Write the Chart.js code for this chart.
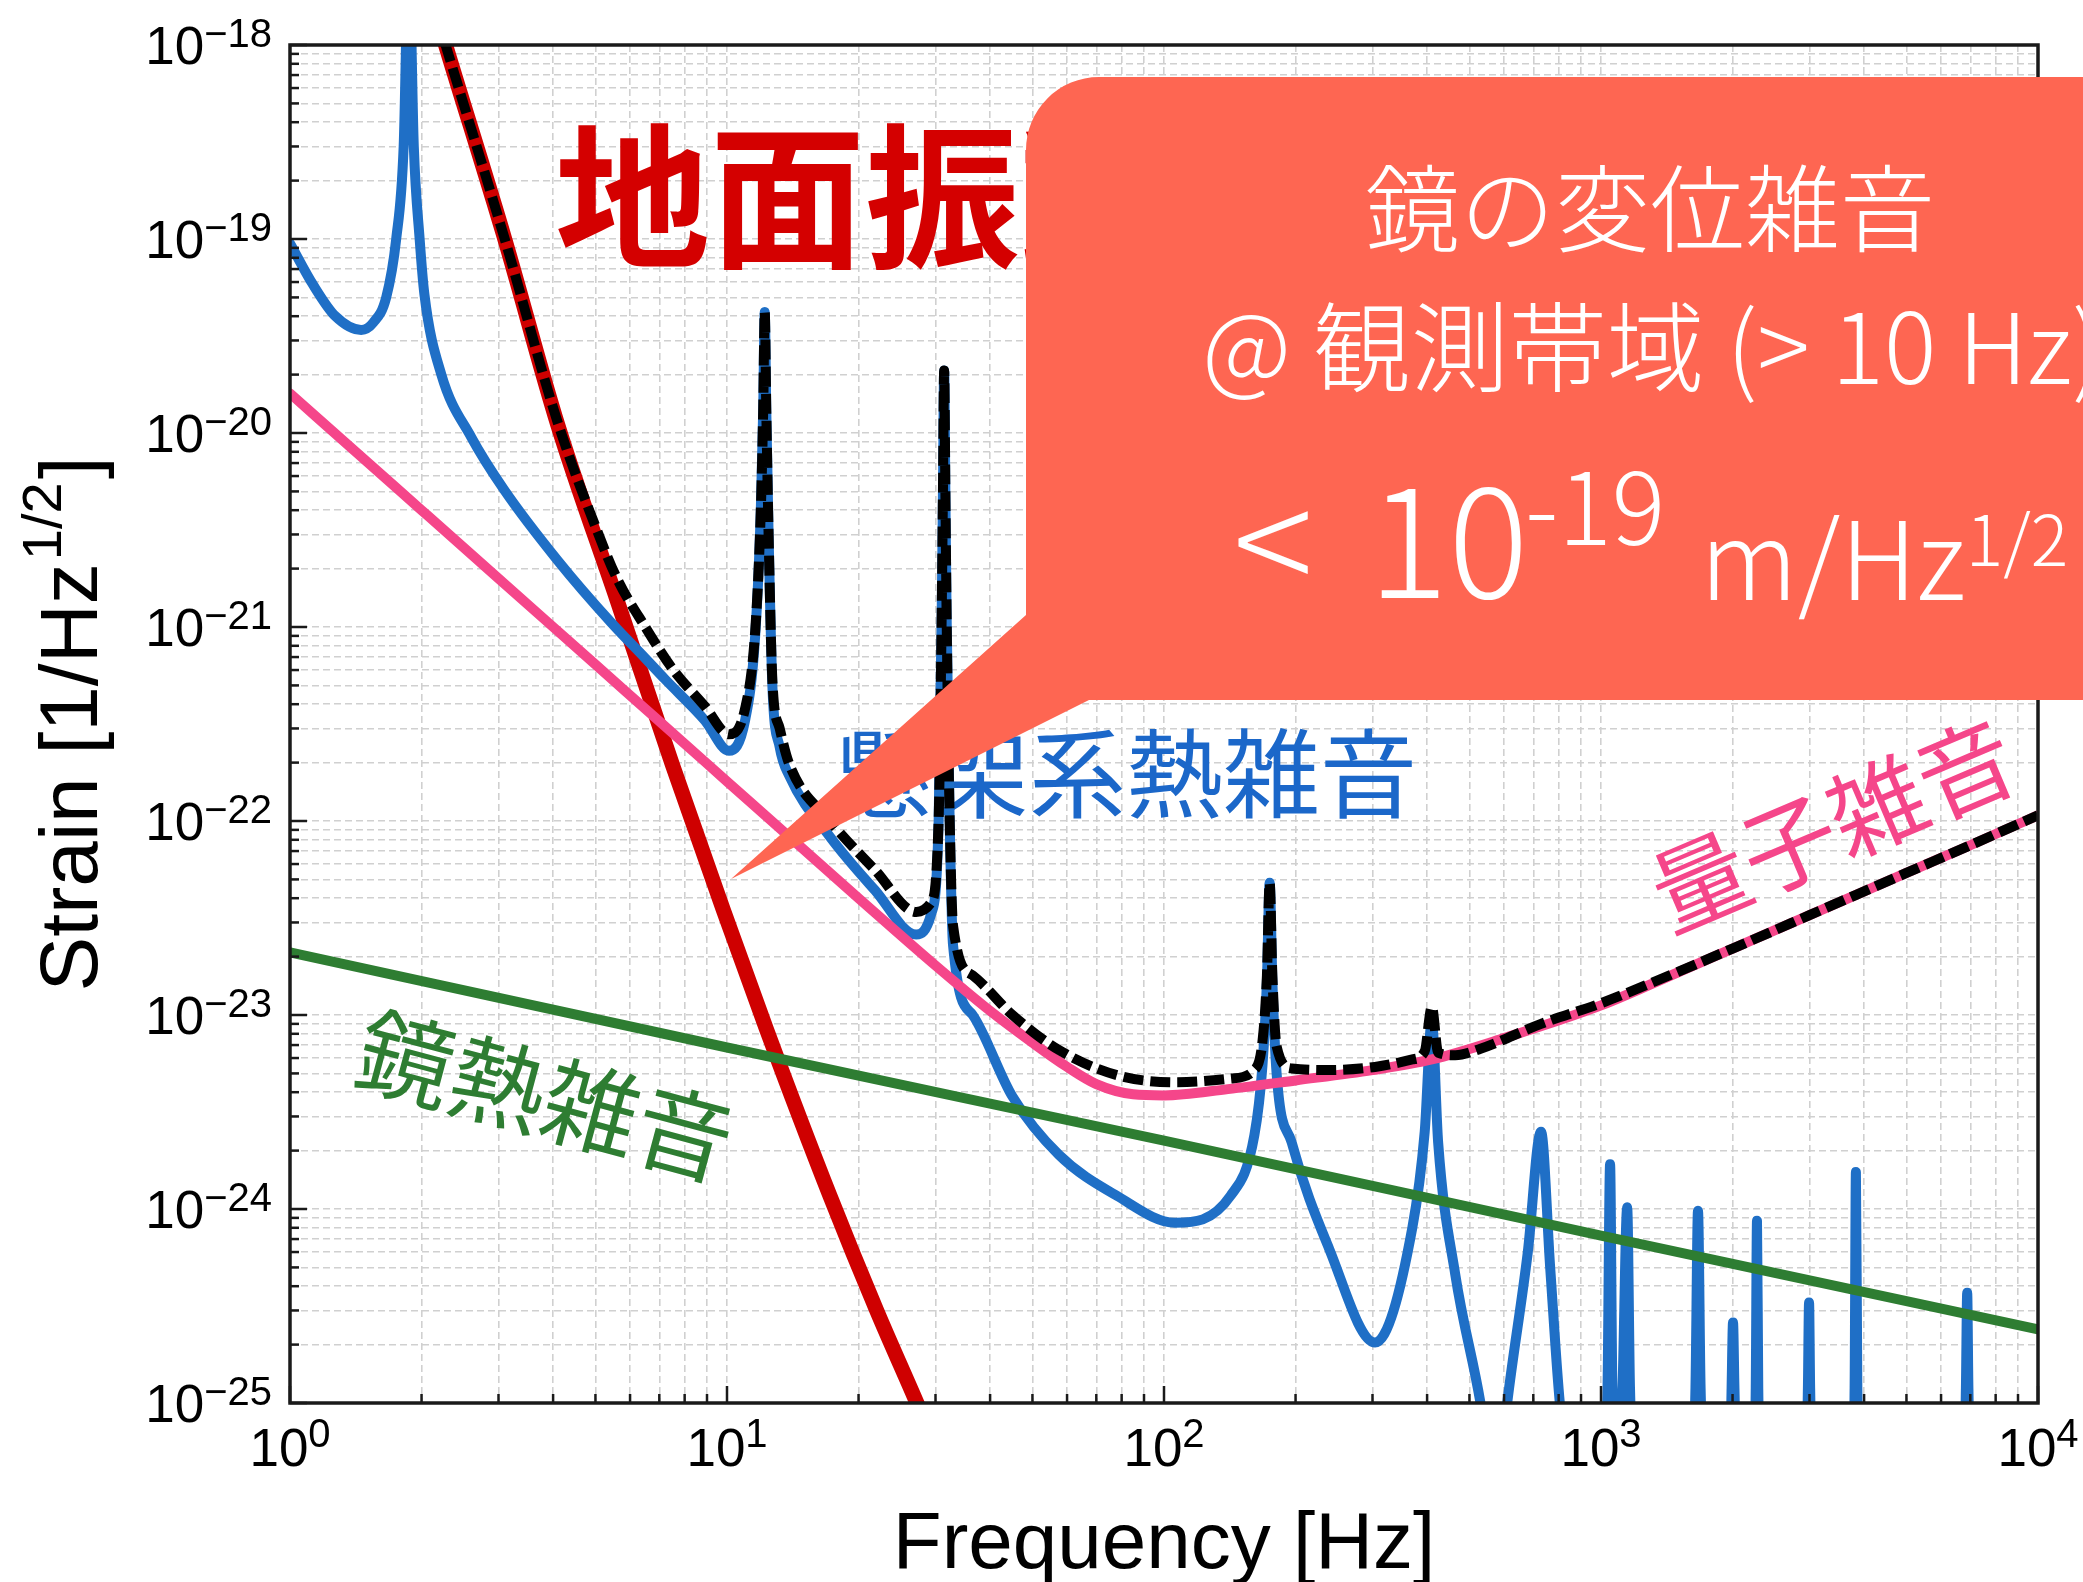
<!DOCTYPE html>
<html lang="ja">
<head>
<meta charset="utf-8">
<title>Noise budget</title>
<script src="https://cdn.jsdelivr.net/npm/chart.js@4.4.1/dist/chart.umd.min.js"></script>
<style>
  html, body { margin: 0; padding: 0; background: #fff; }
  #wrap { position: relative; width: 2083px; height: 1582px; }
</style>
</head>
<body>
<div id="wrap"><canvas id="noiseChart"></canvas></div>
<script>
// axis ranges and decade labels
const X_MIN = 1, X_MAX = 1e4;
const Y_MIN = 1e-25, Y_MAX = 1e-18;
const xTickExps = [0, 1, 2, 3, 4];
const yTickExps = [-18, -19, -20, -21, -22, -23, -24, -25];

// 地面振動 (seismic)
const seismicFreq   = [2.0, 2.27, 3.1, 4.1, 5.6, 7.5, 9.8, 12.3, 17.2, 22, 27.2, 31];
const seismicStrain = [2.6e-18, 1e-18, 1e-19, 1.1e-20, 1.38e-21, 1.95e-22, 3.5e-23, 8.5e-24, 1.17e-24, 3.0e-25, 1e-25, 5e-26];

// 懸架系熱雑音 (suspension thermal)
const suspFreq = [1, 1.13, 1.27, 1.455, 1.55, 1.66, 1.75, 1.82, 1.87, 1.92, 1.98, 2.03, 2.22, 2.6, 3.09, 4.1, 5.44, 6.5, 7.2, 8.9,
  10.1, 11.0, 11.6, 11.95, 12.1, 12.2, 12.3, 12.45, 12.7, 13.2, 13.9, 17.2, 21.8, 27.1, 29.3, 30.5, 31.0, 31.2, 31.4, 31.6, 31.8,
  32.3, 32.9, 36.5, 45, 57.5, 78, 106, 142, 161, 168, 172, 174.5, 177, 181, 196, 239, 304, 370, 395, 410, 424, 464, 530,
  575, 610, 680, 729, 765, 805, 840,
  1020, 1035, 1049, 1062, 1100, 1120, 1148, 1165, 1190,
  1620, 1645, 1667, 1690, 1720, 1975, 1990, 2005, 2020, 2040,
  2240, 2260, 2275, 2290, 2320, 2950, 2975, 2993, 3010, 3040,
  3770, 3805, 3831, 3860, 3900, 6780, 6840, 6886, 6930, 7000, 10000];
const suspStrain = [9.5e-20, 5.8e-20, 4.0e-20, 3.4e-20, 3.7e-20, 5e-20, 1e-19, 3e-19, 3e-18, 3e-19, 1e-19, 5.2e-20, 2.0e-20, 9.5e-21, 5.1e-21, 2.2e-21, 1.05e-21, 6.9e-22, 5.4e-22, 3.3e-22,
  2.3e-22, 3.3e-22, 9e-22, 4e-21, 1.3e-20, 4.2e-20, 1.3e-20, 3e-21, 5e-22, 2.4e-22, 1.7e-22, 8.3e-23, 4.4e-23, 2.6e-23, 3.3e-23, 1e-22, 1.2e-21, 5e-21, 2.1e-20, 5e-21, 1.2e-21,
  1.1e-22, 2.3e-23, 1e-23, 3.8e-24, 1.9e-24, 1.17e-24, 8.5e-25, 1.17e-24, 2.4e-24, 5.5e-24, 1.5e-23, 4.8e-23, 1.5e-23, 5e-24, 2.2e-24, 6.2e-25, 2.05e-25, 8e-25, 2.5e-24, 9.3e-24, 2.2e-24, 4.6e-25, 1e-25,
  3e-26, 1e-25, 6e-25, 2.5e-24, 5e-25, 1e-25, 5e-26,
  5e-26, 1.2e-25, 1.7e-24, 1.2e-25, 5e-26, 1.2e-25, 1.02e-24, 1.2e-25, 5e-26,
  5e-26, 1.2e-25, 9.8e-25, 1.2e-25, 5e-26, 5e-26, 1.2e-25, 2.6e-25, 1.2e-25, 5e-26,
  5e-26, 1.2e-25, 8.7e-25, 1.2e-25, 5e-26, 5e-26, 1.2e-25, 3.3e-25, 1.2e-25, 5e-26,
  5e-26, 1.2e-25, 1.55e-24, 1.2e-25, 5e-26, 5e-26, 1.2e-25, 3.7e-25, 1.2e-25, 5e-26, 5e-26];

// 量子雑音 (quantum)
const quantumFreq   = [1, 1.5, 2, 3, 5, 7, 10, 15, 20, 30, 40, 50, 60, 70, 85, 100, 140, 200, 300, 410, 600, 1000, 1500, 2000, 3000, 5000, 7000, 10000];
const quantumStrain = [1.6e-20, 7.1e-21, 4.0e-21, 1.78e-21, 6.4e-22, 3.27e-22, 1.6e-22, 7.1e-23, 4.0e-23, 1.8e-23, 1.05e-23, 7.2e-24, 5.4e-24, 4.4e-24, 3.9e-24, 3.85e-24, 4.15e-24, 4.6e-24, 5.2e-24, 5.9e-24, 7.6e-24, 1.12e-23, 1.66e-23, 2.2e-23, 3.27e-23, 5.4e-23, 7.5e-23, 1.07e-22];

// 鏡熱雑音 (mirror thermal)
const mirrorFreq   = [1, 10, 100, 1000, 10000];
const mirrorStrain = [2.1e-23, 6.8e-24, 2.25e-24, 7.3e-25, 2.4e-25];

// total
const totalFreq = [2.0, 2.27, 3.1, 4.1, 5.0, 5.6, 6.5, 7.5, 8.9, 10.1, 11.0, 11.6, 11.95, 12.1, 12.2, 12.3, 12.45, 12.7, 13.2, 13.9,
  17.2, 21.8, 27.1, 29.3, 30.5, 31.0, 31.2, 31.4, 31.6, 31.8, 32.3, 32.9, 36.5, 45, 57.5, 78, 106, 142, 161, 168, 172, 174.5, 177,
  181, 196, 239, 304, 370, 395, 410, 424, 464, 530, 729, 1000, 1500, 2000, 3000, 5000, 7000, 10000];
const totalStrain = [2.6e-18, 1e-18, 1e-19, 1.13e-20, 3.3e-21, 1.78e-21, 1.0e-21, 6.1e-22, 3.9e-22, 2.8e-22, 3.8e-22, 9.5e-22, 4e-21, 1.3e-20, 4.2e-20, 1.3e-20, 3e-21, 5.3e-22, 3e-22, 1.95e-22,
  1.0e-22, 5.6e-23, 3.4e-23, 3.8e-23, 1.02e-22, 1.2e-21, 5e-21, 2.1e-20, 5e-21, 1.2e-21, 1.12e-22, 2.9e-23, 1.6e-23, 1.0e-23, 6.6e-24, 4.9e-24, 4.5e-24, 4.7e-24, 5.2e-24, 7.3e-24, 1.6e-23, 4.8e-23, 1.6e-23,
  6.9e-24, 5.3e-24, 5.2e-24, 5.4e-24, 5.9e-24, 6.5e-24, 1.1e-23, 6.4e-24, 6.2e-24, 6.7e-24, 9e-24, 1.15e-23, 1.67e-23, 2.2e-23, 3.27e-23, 5.4e-23, 7.5e-23, 1.07e-22];

const colors = {
  seismic: '#cf0000',
  seismicText: '#d40000',
  suspension: '#1f6fc6',
  suspensionText: '#1b67c9',
  quantum: '#f5468a',
  mirror: '#2e7d32',
  total: '#000000',
  callout: '#fe6652',
  grid: '#d0d0d0',
  frame: '#1a1a1a'
};

const toPoints = (fs, hs) => fs.map((f, i) => ({ x: f, y: hs[i] }));

function logTicks(minExp, maxExp) {
  const ticks = [];
  for (let e = minExp; e < maxExp; e++) {
    for (let m = 1; m < 10; m++) ticks.push({ value: m * Math.pow(10, e) });
  }
  ticks.push({ value: Math.pow(10, maxExp) });
  return ticks;
}

const isDecade = (v) => Math.abs(Math.log10(v) - Math.round(Math.log10(v))) < 1e-6;

function supLabel(exp) {
  return (exp < 0 ? '\u2212' : '') + Math.abs(exp);
}

const decorations = {
  id: 'decorations',
  beforeDatasetsDraw(chart) {
    const ctx = chart.ctx;
    ctx.save();
    ctx.fillStyle = colors.suspensionText;
    ctx.font = '97px "Noto Sans CJK JP"';
    ctx.textBaseline = 'alphabetic';
    ctx.fillText('懸架系熱雑音', 835, 810);
    ctx.restore();
  },
  afterDatasetsDraw(chart) {
    const { ctx, chartArea: a, scales } = chart;
    ctx.save();
    ctx.strokeStyle = colors.frame;
    ctx.lineWidth = 2.5;
    // inward ticks, left and bottom
    for (const t of scales.x.ticks) {
      const px = scales.x.getPixelForValue(t.value);
      const len = isDecade(t.value) ? 17 : 9;
      ctx.beginPath(); ctx.moveTo(px, a.bottom); ctx.lineTo(px, a.bottom - len); ctx.stroke();
    }
    for (const t of scales.y.ticks) {
      const py = scales.y.getPixelForValue(t.value);
      const len = isDecade(t.value) ? 17 : 9;
      ctx.beginPath(); ctx.moveTo(a.left, py); ctx.lineTo(a.left + len, py); ctx.stroke();
    }
    ctx.lineWidth = 3.5;
    ctx.strokeRect(a.left, a.top, a.right - a.left, a.bottom - a.top);
    ctx.restore();
  },
  afterDraw(chart) {
    const { ctx, chartArea: a, scales } = chart;
    ctx.save();
    ctx.fillStyle = '#000';
    ctx.textBaseline = 'alphabetic';
    const mainFont = '53px "Liberation Sans"';
    const supFont = '40px "Liberation Sans"';

    // x decade labels
    for (const e of xTickExps) {
      const px = scales.x.getPixelForValue(Math.pow(10, e));
      ctx.font = mainFont; const w1 = ctx.measureText('10').width;
      ctx.font = supFont; const w2 = ctx.measureText(supLabel(e)).width;
      const x0 = px - (w1 + w2) / 2;
      ctx.font = mainFont; ctx.textAlign = 'left'; ctx.fillText('10', x0, a.bottom + 63);
      ctx.font = supFont; ctx.fillText(supLabel(e), x0 + w1, a.bottom + 44);
    }
    // y decade labels
    for (const e of yTickExps) {
      const py = scales.y.getPixelForValue(Math.pow(10, e));
      ctx.font = supFont; const w2 = ctx.measureText(supLabel(e)).width;
      ctx.textAlign = 'right';
      ctx.fillText(supLabel(e), a.left - 18, py + 2);
      ctx.font = mainFont;
      ctx.fillText('10', a.left - 18 - w2, py + 19);
    }

    // axis titles
    ctx.font = '80px "Liberation Sans"';
    ctx.textAlign = 'center';
    ctx.fillText('Frequency [Hz]', (a.left + a.right) / 2, 1568);

    ctx.save();
    ctx.translate(97, (a.top + a.bottom) / 2);
    ctx.rotate(-Math.PI / 2);
    ctx.textAlign = 'left';
    ctx.font = '82px "Liberation Sans"';
    const t1 = 'Strain [1/Hz', t3 = ']';
    const w1 = ctx.measureText(t1).width, w3 = ctx.measureText(t3).width;
    ctx.font = '56px "Liberation Sans"';
    const w2 = ctx.measureText('1/2').width;
    const x0 = -(w1 + w2 + w3 + 6) / 2;
    ctx.font = '82px "Liberation Sans"';
    ctx.fillText(t1, x0, 0);
    ctx.fillText(t3, x0 + w1 + w2 + 6, 0);
    ctx.font = '56px "Liberation Sans"';
    ctx.fillText('1/2', x0 + w1 + 3, -36);
    ctx.restore();

    // curve labels
    ctx.textAlign = 'left';
    ctx.fillStyle = colors.seismicText;
    ctx.font = 'bold 155px "Noto Sans CJK JP"';
    ctx.fillText('地面振動', 555, 255);

    ctx.save();
    ctx.translate(545, 1096);
    ctx.rotate(15 * Math.PI / 180);
    ctx.fillStyle = colors.mirror;
    ctx.font = '96px "Noto Sans CJK JP"';
    ctx.textAlign = 'center';
    ctx.textBaseline = 'middle';
    ctx.fillText('鏡熱雑音', 0, 0);
    ctx.restore();

    ctx.save();
    ctx.translate(1833, 825);
    ctx.rotate(-23 * Math.PI / 180);
    ctx.fillStyle = colors.quantum;
    ctx.font = '96px "Noto Sans CJK JP"';
    ctx.textAlign = 'center';
    ctx.textBaseline = 'middle';
    ctx.fillText('量子雑音', 0, 0);
    ctx.restore();

    // callout balloon
    ctx.fillStyle = colors.callout;
    ctx.beginPath();
    ctx.moveTo(731, 879);
    ctx.lineTo(1026, 615);
    ctx.lineTo(1026, 150);
    ctx.arcTo(1026, 77, 1099, 77, 73);
    ctx.lineTo(2083, 77);
    ctx.lineTo(2083, 700);
    ctx.lineTo(1089, 700);
    ctx.closePath();
    ctx.fill();

    ctx.fillStyle = '#ffffff';
    ctx.textBaseline = 'alphabetic';
    ctx.font = '300 95px "Noto Sans CJK JP"';
    ctx.textAlign = 'center';
    ctx.fillText('鏡の変位雑音', 1650, 245);
    ctx.textAlign = 'left';
    ctx.font = '300 98px "Noto Sans CJK JP"';
    ctx.fillText('@ 観測帯域 (> 10 Hz)', 1202, 384);
    ctx.font = '300 150px "Noto Sans CJK JP"';
    ctx.fillText('<', 1233, 598);
    ctx.fillText('10', 1368, 598);
    ctx.font = '300 100px "Noto Sans CJK JP"';
    ctx.fillText('-19', 1525, 545);
    ctx.font = '300 108px "Noto Sans CJK JP"';
    ctx.fillText('m/Hz', 1700, 600);
    const wUnit = ctx.measureText('m/Hz').width;
    ctx.font = '300 70px "Noto Sans CJK JP"';
    ctx.fillText('1/2', 1700 + wUnit, 566);
    ctx.restore();
  }
};

const lineStyle = (color, width) => ({
  borderColor: color,
  backgroundColor: color,
  borderWidth: width,
  pointRadius: 0,
  fill: false,
  cubicInterpolationMode: 'monotone',
  borderJoinStyle: 'round',
  borderCapStyle: 'round',
  clip: 0
});

new Chart(document.getElementById('noiseChart'), {
  type: 'line',
  data: {
    datasets: [
      { label: 'total', data: toPoints(totalFreq, totalStrain), ...lineStyle(colors.total, 10), borderDash: [20, 7], borderCapStyle: 'butt' },
      { label: '鏡熱雑音', data: toPoints(mirrorFreq, mirrorStrain), ...lineStyle(colors.mirror, 10) },
      { label: '量子雑音', data: toPoints(quantumFreq, quantumStrain), ...lineStyle(colors.quantum, 10) },
      { label: '懸架系熱雑音', data: toPoints(suspFreq, suspStrain), ...lineStyle(colors.suspension, 10) },
      { label: '地面振動', data: toPoints(seismicFreq, seismicStrain), ...lineStyle(colors.seismic, 15) }
    ]
  },
  options: {
    responsive: true,
    maintainAspectRatio: false,
    devicePixelRatio: 1,
    animation: false,
    events: [],
    layout: { padding: { left: 290, top: 45, right: 45, bottom: 179 } },
    plugins: { legend: { display: false }, tooltip: { enabled: false } },
    scales: {
      x: {
        type: 'logarithmic',
        min: X_MIN,
        max: X_MAX,
        afterBuildTicks: (s) => { s.ticks = logTicks(0, 4); },
        afterFit: (s) => { s.height = 0; },
        ticks: { display: false },
        grid: { color: colors.grid, lineWidth: 1.6, drawTicks: false },
        border: { display: false, dash: [7, 4] }
      },
      y: {
        type: 'logarithmic',
        min: Y_MIN,
        max: Y_MAX,
        afterBuildTicks: (s) => { s.ticks = logTicks(-25, -18); },
        afterFit: (s) => { s.width = 0; },
        ticks: { display: false },
        grid: { color: colors.grid, lineWidth: 1.6, drawTicks: false },
        border: { display: false, dash: [7, 4] }
      }
    }
  },
  plugins: [decorations]
});
</script>
</body>
</html>
